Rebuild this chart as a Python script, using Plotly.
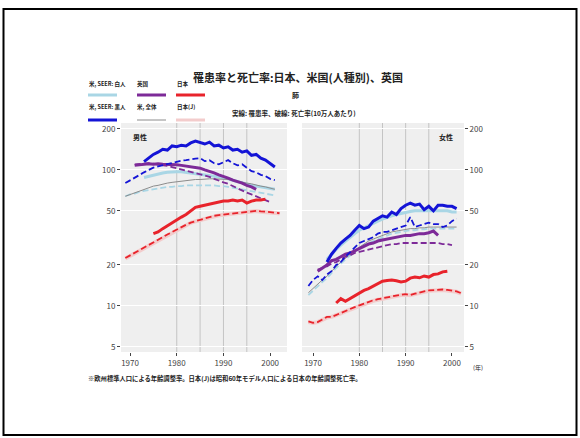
import plotly.graph_objects as go

# ---------------- DATA ----------------
# Male (男性)
m_black_inc_years = list(range(1973, 2002))
m_black_inc = [115, 122, 130, 135, 142, 140, 150, 148, 152, 150, 158, 163, 158, 155, 160,
               150, 152, 145, 148, 140, 142, 135, 138, 128, 130, 122, 118, 112, 105]
m_black_mor_years = list(range(1969, 2002))
m_black_mor = [80, 84, 88, 92, 96, 100, 104, 106, 108, 111, 113, 115, 117, 118, 120, 121, 122,
               116, 118, 112, 110, 114, 118, 112, 108, 110, 104, 98, 96, 92, 90, 86, 84]
m_white_inc_years = list(range(1973, 2002))
m_white_inc = [88, 90, 92, 94, 95, 96, 97, 97, 97, 96, 96, 95, 94, 93, 92, 90, 89, 88, 86,
               84, 82, 80, 79, 77, 76, 75, 74, 73, 72]
m_white_mor_years = list(range(1969, 2002))
m_white_mor = [64, 66, 67, 69, 70, 71, 72, 73, 74, 75, 75, 76, 76, 77, 77, 77, 77, 77, 77, 77,
               76, 76, 75, 74, 73, 72, 71, 70, 69, 68, 67, 66, 65]
m_us_all_years = list(range(1969, 2002))
m_us_all = [64, 66, 68, 70, 72, 74, 76, 77, 79, 80, 81, 82, 83, 84, 84, 85, 85, 86, 86, 86,
            86, 86, 85, 84, 83, 81, 80, 79, 77, 76, 75, 73, 72]
m_uk_inc_years = list(range(1971, 1998))
m_uk_inc = [108, 109, 110, 111, 110, 111, 110, 110, 109, 109, 108, 107, 106, 104, 103, 100,
            98, 95, 92, 90, 87, 84, 82, 80, 77, 75, 72]
m_uk_mor_years = list(range(1971, 2001))
m_uk_mor = [110, 111, 112, 112, 111, 110, 109, 107, 105, 103, 101, 99, 97, 95, 93, 91, 89,
            86, 84, 81, 79, 76, 73, 71, 68, 66, 64, 62, 60, 58]
m_jp_inc_years = list(range(1975, 2000))
m_jp_inc = [34, 35, 37, 39, 41, 43, 45, 47, 50, 53, 54, 55, 56, 57, 58, 59, 59, 60, 59, 60,
            57, 59, 60, 60, 61]
m_jp_mor_years = list(range(1969, 2003))
m_jp_mor = [22.5, 23.5, 24.5, 25.5, 26.5, 28, 29, 30.5, 32, 33.5, 35, 36.5, 38, 39.5, 41, 42,
            43, 44, 45, 46, 46.5, 47, 47.5, 48, 48.5, 49, 49.5, 50, 50, 49.5, 49.5, 49, 48.5, 48]
m_jpj_mor_years = list(range(1969, 2003))
m_jpj_mor = [22.3, 23.3, 24.3, 25.3, 26.4, 27.8, 28.9, 30.3, 31.8, 33.3, 34.8, 36.3, 37.8,
             39.3, 40.8, 41.8, 42.8, 43.8, 44.8, 45.8, 46.3, 46.8, 47.3, 47.8, 48.3, 48.8,
             49.3, 49.7, 49.8, 49.3, 49.2, 48.8, 48.3, 47.8]

# Female (女性)
f_black_inc_years = list(range(1973, 2002))
f_black_inc = [21, 24, 26.5, 29, 31, 33, 36, 39, 37, 38, 42, 44, 46, 45, 49, 47, 52, 55, 57,
               55, 56, 51, 54, 50, 55, 55, 54, 54, 52]
f_black_mor_years = list(range(1969, 2002))
f_black_mor = [14, 15.5, 16.5, 15.5, 17, 18, 20, 21, 23, 25, 27, 29, 30, 31, 32, 34, 35, 35,
               36, 37, 38, 39, 45, 38, 39, 40, 41, 40, 40, 38, 39, 42, 44]
f_white_inc_years = list(range(1973, 2002))
f_white_inc = [22, 24, 26, 28, 30, 32, 34, 36, 37.5, 39, 40.5, 42, 43.5, 45, 46, 47, 48, 49,
               49.5, 50, 50, 50, 50, 50, 50, 50, 50, 49, 49]
f_white_mor_years = list(range(1969, 2002))
f_white_mor = [12, 13, 14, 15, 16, 17.5, 19, 20.5, 22, 23.5, 25, 26.5, 28, 29, 30, 31, 32, 33,
               34, 34.5, 35, 35.5, 36, 36, 36.5, 36.5, 37, 37, 37, 37, 37, 37, 37]
f_us_all_years = list(range(1969, 2002))
f_us_all = [12.5, 13.5, 14.5, 15.5, 16.5, 18, 19.5, 21, 22.5, 24, 25.5, 27, 28.5, 30, 31, 32,
            33, 34, 35, 35.5, 36, 36.5, 37, 37, 37.5, 37.5, 38, 38, 38, 38, 38, 38, 38]
f_uk_inc_years = list(range(1971, 1998))
f_uk_inc = [18, 19, 20, 21.5, 22, 23, 24, 24.5, 25.5, 26.5, 27.5, 28.5, 29, 30, 30.5, 31,
            31.5, 32, 32.5, 33, 33, 33.5, 34, 34, 34.5, 35.5, 33]
f_uk_mor_years = list(range(1971, 2001))
f_uk_mor = [18.5, 19, 19.5, 20.5, 21, 22, 23, 23.5, 24.5, 25, 25.5, 26, 26.5, 27, 27.5, 28,
            28.5, 28.5, 29, 29, 29, 29, 29, 29, 29, 29, 29, 28.5, 28.5, 28]
f_jp_inc_years = list(range(1975, 2000))
f_jp_inc = [10.5, 11.3, 10.8, 11.3, 11.8, 12.3, 13, 13.4, 14, 14.6, 15.2, 15.4, 15.5, 15.3,
            15, 15.2, 16, 16.3, 16.1, 16.6, 16.3, 17, 17.2, 17.8, 18]
f_jp_mor_years = list(range(1969, 2003))
f_jp_mor = [7.7, 7.5, 7.6, 8.0, 8.3, 8.3, 8.6, 8.9, 9.2, 9.5, 9.8, 10.1, 10.4, 10.7, 11.0,
            11.2, 11.4, 11.5, 11.7, 11.9, 12.1, 12.2, 12.0, 12.3, 12.6, 12.8, 13.0, 13.1,
            13.2, 13.2, 13.1, 13.0, 12.8, 12.4]
f_jpj_mor_years = list(range(1969, 2003))
f_jpj_mor = [7.6, 7.5, 7.6, 7.9, 8.2, 8.3, 8.5, 8.8, 9.1, 9.4, 9.7, 10.0, 10.3, 10.6, 10.9,
             11.1, 11.3, 11.4, 11.6, 11.8, 12.0, 12.1, 12.0, 12.2, 12.5, 12.7, 12.9, 13.0,
             13.1, 13.1, 13.0, 12.9, 12.7, 12.3]

y_ticks = [5, 10, 20, 50, 100, 200]
x_ticks = [1970, 1980, 1990, 2000]
v_lines = [1980, 1985, 1990, 1995]

title_text = "罹患率と死亡率:日本、米国(人種別)、英国"
sub1_text = "肺"
sub2_text = "実線: 罹患率、破線: 死亡率(10万人あたり)"
panel_labels = ["男性", "女性"]
legend_labels = ["米, SEER: 白人", "英国", "日本", "米, SEER: 黒人", "米, 全体", "日本(J)"]
footnote = "※欧州標準人口による年齢調整率。日本(J)は昭和60年モデル人口による日本の年齢調整死亡率。"
year_unit = "(年)"

# ---------------- STYLE ----------------
W, H = 580, 438
FONT = "Noto Sans CJK JP"
C_BLACK = "#1414d6"
C_WHITE = "#a9d6e5"
C_UK = "#7d2a98"
C_JP = "#e8232b"
C_ALL = "#8c8c8c"
C_JPJ = "#f3cccc"
DASH = "6px,3px"

def px(xp):
    return xp / W

def py(yp):
    return 1 - yp / H

fig = go.Figure()

def add(xs, ys, color, width, dash, axis):
    xa, ya = ("x", "y") if axis == 1 else ("x2", "y2")
    fig.add_trace(go.Scatter(x=xs, y=ys, mode="lines", xaxis=xa, yaxis=ya,
                             line=dict(color=color, width=width, dash=dash),
                             showlegend=False, hoverinfo="skip"))

for axis, d in [(1, dict(bi=(m_black_inc_years, m_black_inc), bm=(m_black_mor_years, m_black_mor),
                         wi=(m_white_inc_years, m_white_inc), wm=(m_white_mor_years, m_white_mor),
                         al=(m_us_all_years, m_us_all), ui=(m_uk_inc_years, m_uk_inc),
                         um=(m_uk_mor_years, m_uk_mor), ji=(m_jp_inc_years, m_jp_inc),
                         jm=(m_jp_mor_years, m_jp_mor), jj=(m_jpj_mor_years, m_jpj_mor))),
                (2, dict(bi=(f_black_inc_years, f_black_inc), bm=(f_black_mor_years, f_black_mor),
                         wi=(f_white_inc_years, f_white_inc), wm=(f_white_mor_years, f_white_mor),
                         al=(f_us_all_years, f_us_all), ui=(f_uk_inc_years, f_uk_inc),
                         um=(f_uk_mor_years, f_uk_mor), ji=(f_jp_inc_years, f_jp_inc),
                         jm=(f_jp_mor_years, f_jp_mor), jj=(f_jpj_mor_years, f_jpj_mor)))]:
    add(*d["jj"], C_JPJ, 4, "solid", axis)
    add(*d["wm"], C_WHITE, 1.8, DASH, axis)
    add(*d["wi"], C_WHITE, 3, "solid", axis)
    add(*d["al"], C_ALL, 1, "solid", axis)
    add(*d["um"], C_UK, 1.8, DASH, axis)
    add(*d["ui"], C_UK, 3, "solid", axis)
    add(*d["bm"], C_BLACK, 1.8, DASH, axis)
    add(*d["bi"], C_BLACK, 3, "solid", axis)
    add(*d["jm"], C_JP, 1.8, DASH, axis)
    add(*d["ji"], C_JP, 3, "solid", axis)

ydom = [py(352), py(123)]
yrange = [0.661, 2.345]
tickfont = dict(family=FONT, size=8, color="#444444")
common_x = dict(tickvals=x_ticks, ticks="outside", ticklen=3, tickcolor="#444444",
                showgrid=False, zeroline=False, showline=False, tickfont=tickfont)
common_y = dict(type="log", range=yrange, tickvals=y_ticks, ticktext=[str(v) for v in y_ticks],
                ticks="outside", ticklen=3, tickcolor="#444444", showgrid=True,
                gridcolor="#ffffff", gridwidth=1, zeroline=False, showline=False,
                tickfont=tickfont, domain=ydom)

fig.update_layout(
    width=W, height=H, margin=dict(l=0, r=0, t=0, b=0),
    paper_bgcolor="white", plot_bgcolor="#efefef", showlegend=False,
    xaxis=dict(domain=[px(121), px(287)], range=[1968.07, 2003.6], anchor="y", **common_x),
    xaxis2=dict(domain=[px(302), px(464)], range=[1967.62, 2002.6], anchor="y2", **common_x),
    yaxis=dict(anchor="x", side="left", **common_y),
    yaxis2=dict(anchor="x2", side="right", **common_y),
)

shapes = []
for ax in ["x", "x2"]:
    for v in v_lines:
        shapes.append(dict(type="line", xref=ax, yref="y domain" if ax == "x" else "y2 domain",
                           x0=v, x1=v, y0=0, y1=1, line=dict(color="#c4c4c4", width=1),
                           layer="below"))
# outer border
shapes.append(dict(type="rect", xref="paper", yref="paper", x0=px(3.5), x1=px(576.5),
                   y0=py(435), y1=py(9), line=dict(color="black", width=2)))

# legend swatches
leg_pos = [(88, 117, 95), (137, 166, 95), (176, 205, 95),
           (88, 117, 120), (137, 166, 120), (176, 205, 120)]
leg_style = [(C_WHITE, 3, "solid"), (C_UK, 3, "solid"), (C_JP, 3, "solid"),
             (C_BLACK, 3, "solid"), (C_ALL, 1, "solid"), (C_JPJ, 3, "solid")]
for (x0, x1, yy), (c, w, ds) in zip(leg_pos, leg_style):
    shapes.append(dict(type="line", xref="paper", yref="paper", x0=px(x0), x1=px(x1),
                       y0=py(yy), y1=py(yy), line=dict(color=c, width=w, dash=ds)))
fig.update_layout(shapes=shapes)

ann = []
def text(t, x, y, size, xanchor="left", bold=False, color="#222222"):
    ann.append(dict(text=("<b>%s</b>" % t) if bold else t, xref="paper", yref="paper",
                    x=px(x), y=py(y), xanchor=xanchor, yanchor="middle", showarrow=False,
                    font=dict(family=FONT, size=size, color=color)))

text(title_text, 298, 77, 11, "center", True)
text(sub1_text, 295, 95, 7, "center", True)
text(sub2_text, 294, 113, 6.5, "center", True)
leg_text_pos = [(87, 84), (135, 84), (175, 84), (87, 107), (135, 107), (175, 107)]
for lbl, (x, y) in zip(legend_labels, leg_text_pos):
    text(lbl, x, y, 5.5, "left", True)
text(panel_labels[0], 131, 137, 7, "left", True)
text(panel_labels[1], 455, 137, 7, "right", True)
text(year_unit, 471, 367, 6, "left")
text(footnote, 86, 378, 6.3, "left", True)
fig.update_layout(annotations=ann)

fig.write_html("out.html")
